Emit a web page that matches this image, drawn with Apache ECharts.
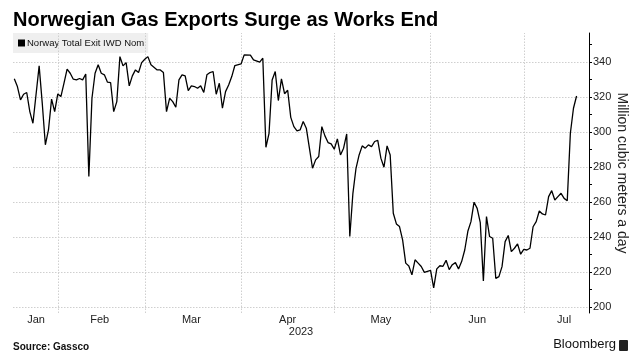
<!DOCTYPE html>
<html><head><meta charset="utf-8">
<script src="https://cdn.jsdelivr.net/npm/echarts@6/dist/echarts.min.js"></script>
<style>html,body{margin:0;padding:0;background:#fff}#c{width:632px;height:360px}</style>
</head><body><div id="c"></div>
<script>
const titleText = 'Norwegian Gas Exports Surge as Works End';
const seriesName = 'Norway Total Exit IWD Nom';
const yAxisName = 'Million cubic meters a day';
const dates = [
 '2023-01-18','2023-01-19','2023-01-20','2023-01-21','2023-01-22','2023-01-23','2023-01-24','2023-01-26','2023-01-27','2023-01-28','2023-01-29','2023-01-30','2023-01-31',
 '2023-02-01','2023-02-02','2023-02-03','2023-02-04','2023-02-05','2023-02-06','2023-02-07','2023-02-08','2023-02-09','2023-02-10','2023-02-11','2023-02-12','2023-02-13','2023-02-14','2023-02-15','2023-02-16','2023-02-17','2023-02-18','2023-02-19','2023-02-20','2023-02-21','2023-02-22','2023-02-23','2023-02-24','2023-02-25','2023-02-26','2023-02-27','2023-02-28',
 '2023-03-01','2023-03-02','2023-03-03','2023-03-05','2023-03-06','2023-03-07','2023-03-08','2023-03-09','2023-03-10','2023-03-11','2023-03-12','2023-03-13','2023-03-14','2023-03-15','2023-03-16','2023-03-17','2023-03-18','2023-03-19','2023-03-20','2023-03-21','2023-03-22','2023-03-23','2023-03-24','2023-03-25','2023-03-26','2023-03-27','2023-03-28','2023-03-29','2023-03-30',
 '2023-04-01','2023-04-02','2023-04-04','2023-04-05','2023-04-07','2023-04-08','2023-04-09','2023-04-10','2023-04-11','2023-04-12','2023-04-13','2023-04-14','2023-04-15','2023-04-16','2023-04-17','2023-04-18','2023-04-19','2023-04-20','2023-04-21','2023-04-22','2023-04-23','2023-04-24','2023-04-25','2023-04-26','2023-04-27','2023-04-28','2023-04-29','2023-04-30',
 '2023-05-01','2023-05-02','2023-05-03','2023-05-04','2023-05-05','2023-05-06','2023-05-07','2023-05-08','2023-05-09','2023-05-10','2023-05-11','2023-05-12','2023-05-13','2023-05-14','2023-05-15','2023-05-16','2023-05-17','2023-05-18','2023-05-19','2023-05-20','2023-05-21','2023-05-22','2023-05-23','2023-05-24','2023-05-25','2023-05-26','2023-05-27','2023-05-28','2023-05-29','2023-05-30','2023-05-31',
 '2023-06-01','2023-06-02','2023-06-03','2023-06-04','2023-06-05','2023-06-06','2023-06-07','2023-06-08','2023-06-09','2023-06-10','2023-06-11','2023-06-12','2023-06-13','2023-06-14','2023-06-15','2023-06-16','2023-06-17','2023-06-18','2023-06-19','2023-06-20','2023-06-21','2023-06-22','2023-06-23','2023-06-24','2023-06-25','2023-06-26','2023-06-27','2023-06-28','2023-06-29','2023-06-30',
 '2023-07-01','2023-07-02','2023-07-03','2023-07-04','2023-07-05','2023-07-06','2023-07-07','2023-07-08','2023-07-09','2023-07-10','2023-07-11','2023-07-12','2023-07-13','2023-07-14','2023-07-15','2023-07-16','2023-07-17','2023-07-18'
];
const values = [
 330.5,326.1,318.5,321.7,322.7,311.8,305.1,337.9,316.6,292.8,301.3,318.9,311.8,
 321.9,320.4,328.0,336.0,333.7,330.3,329.9,330.7,329.9,333.3,274.7,319.4,333.7,338.5,333.7,332.8,328.6,328.4,311.8,317.5,343.2,337.9,339.8,326.5,332.2,335.6,334.1,339.8,
 341.7,343.2,338.5,335.6,335.6,334.1,311.8,319.4,317.5,314.3,329.9,332.8,332.2,323.8,326.5,326.1,325.1,326.5,322.7,332.8,334.1,334.7,321.7,328.0,313.7,323.2,327.0,331.8,338.1,
 339.0,344.2,344.0,341.3,340.0,342.3,291.4,299.4,329.9,334.7,318.1,330.5,322.0,324.0,308.5,303.2,300.8,301.3,306.1,302.3,290.9,279.4,284.2,286.1,303.2,297.9,294.1,293.3,
 290.3,296.2,287.0,290.9,299.0,240.4,265.1,279.4,287.0,292.2,290.9,292.8,291.8,294.7,295.3,285.2,280.0,292.2,287.0,253.7,247.6,246.1,238.5,225.2,223.6,218.5,227.1,225.2,223.3,219.9,220.5,
 221.0,211.0,221.9,223.7,223.4,226.8,221.5,224.3,225.5,221.9,226.1,232.7,243.4,248.9,260.0,256.5,248.4,215.0,251.8,240.4,239.4,216.5,217.5,223.2,237.5,241.0,231.8,233.7,236.2,230.3,
 233.1,232.7,233.7,246.0,248.9,255.0,253.3,252.7,263.2,266.6,261.3,263.2,265.1,262.2,260.9,299.4,313.7,320.7
];
const yTickLabels = [200,220,240,260,280,300,320,340];
const yTickMarks = [200,210,220,230,240,250,260,270,280,290,300,310,320,330,340,350];
const monthStarts = ['2023-02-01','2023-03-01','2023-04-01','2023-05-01','2023-06-01','2023-07-01'];
const monthLabelDates = ['2023-01-25','2023-02-14T12:00:00Z','2023-03-16','2023-04-16','2023-05-16','2023-06-16','2023-07-14'];
const monthNames = ['Jan','Feb','Mar','Apr','May','Jun','Jul','Aug','Sep','Oct','Nov','Dec'];
const yearLabel = '2023';
const sourceText = 'Source: Gassco';
const brandText = 'Bloomberg';

const ts = s => new Date(s.length === 10 ? s + 'T00:00:00Z' : s).getTime();
const lineData = dates.map((d, i) => [ts(d), values[i]]);
const gridColor = '#cfcfcf';

const chart = echarts.init(document.getElementById('c'), null, {renderer: 'canvas'});
chart.setOption({
  animation: false,
  backgroundColor: '#fff',
  textStyle: {fontFamily: "'Liberation Sans', Arial, sans-serif"},
  title: {
    text: titleText, left: 8, top: 5,
    textStyle: {fontSize: 20, fontWeight: 'bold', color: '#000', fontFamily: "'Liberation Sans', Arial, sans-serif"}
  },
  legend: {
    left: 13, top: 33, padding: [5, 4, 5, 5],
    backgroundColor: '#efefef',
    icon: 'rect', itemWidth: 7, itemHeight: 7, itemGap: 5,
    textStyle: {fontSize: 9.5, color: '#111', padding: [0, 0, 0, -3]},
    data: [seriesName]
  },
  grid: {left: 13, right: 43, top: 33, bottom: 47, containLabel: false, outerBoundsMode: 'none'},
  xAxis: {
    type: 'value',
    min: ts('2023-01-17T14:00:00Z'),
    max: ts('2023-07-22T00:00:00Z'),
    name: yearLabel, nameLocation: 'middle', nameGap: 13, nameMoveOverlap: false,
    nameTextStyle: {fontSize: 11, color: '#222', verticalAlign: 'top'},
    axisLine: {show: false},
    axisTick: {show: false},
    splitLine: {show: false},
    axisLabel: {
      customValues: monthLabelDates.map(ts),
      formatter: v => monthNames[new Date(v).getUTCMonth()],
      fontSize: 11, color: '#222', margin: 1, hideOverlap: false
    }
  },
  yAxis: {
    type: 'value', position: 'right',
    min: 196.7, max: 356.7,
    name: yAxisName, nameLocation: 'middle', nameRotate: -90, nameGap: 26, nameMoveOverlap: false,
    nameTextStyle: {fontSize: 14, color: '#222'},
    axisLine: {show: true, lineStyle: {color: '#000', width: 1}},
    axisTick: {show: true, customValues: yTickMarks, length: 3, lineStyle: {color: '#000'}},
    splitLine: {show: false},
    axisLabel: {customValues: yTickLabels, fontSize: 11, color: '#222', margin: 4}
  },
  series: [{
    name: seriesName, type: 'line', data: lineData,
    showSymbol: false, symbol: 'none',
    lineStyle: {color: '#000', width: 1.3}, itemStyle: {color: '#000'},
    markLine: {
      silent: true, symbol: 'none', label: {show: false},
      lineStyle: {color: gridColor, type: [1.5, 1.5], width: 1},
      data: yTickLabels.map(v => ({yAxis: v})).concat(monthStarts.map(d => ({xAxis: ts(d)})))
    },
    z: 5
  }],
  graphic: [
    {type: 'text', left: 13, top: 342, style: {text: sourceText, font: "bold 10px 'Liberation Sans', Arial, sans-serif", fill: '#111'}},
    {type: 'text', right: 16, top: 338, style: {text: brandText, font: "13px 'Liberation Sans', Arial, sans-serif", fill: '#111'}},
    {type: 'rect', right: 4, top: 340, shape: {width: 9, height: 11, r: 1}, style: {fill: '#222'}}
  ]
});
</script></body></html>
